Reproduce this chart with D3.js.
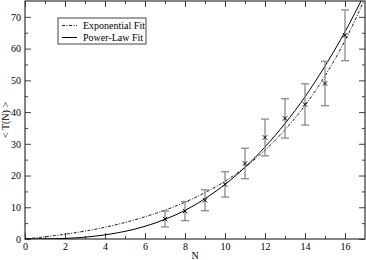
<!DOCTYPE html>
<html>
<head>
<meta charset="utf-8">
<script src="https://cdn.jsdelivr.net/npm/d3@7"></script>
<style>
  body { margin: 0; background: #fff; }
  svg { display: block; }
  svg text { font-family: "Liberation Serif", "Times New Roman", Times, "DejaVu Serif", serif; fill: #000; }
</style>
</head>
<body>
<div id="chart"></div>
<script>
// measured points with error bars
const nValues = [7, 8, 9, 10, 11, 12, 13, 14, 15, 16];
const meanT = [6.3, 8.8, 12.2, 17.2, 23.8, 32.0, 38.0, 42.4, 49.0, 64.2];
const errT = [2.5, 3.0, 3.3, 4.0, 4.8, 5.8, 6.2, 6.5, 7.0, 8.0];

// fit curves at integer N
const fitN = [0, 1, 2, 3, 4, 5, 6, 7, 8, 9, 10, 11, 12, 13, 14, 15, 16, 17];
const expFit = [0, 0.7, 1.5, 2.5, 3.7, 5.2, 7.0, 9.1, 11.6, 14.6, 18.2, 22.6, 28.0, 34.4, 42.1, 51.4, 62.5, 75.8];
const powFit = [0, 0.03, 0.18, 0.58, 1.3, 2.4, 4.0, 6.2, 9.0, 12.7, 17.2, 22.6, 29.0, 36.4, 44.8, 54.5, 65.3, 77.5];

const xTicks = [0, 2, 4, 6, 8, 10, 12, 14, 16];
const yTicks = [0, 10, 20, 30, 40, 50, 60, 70];
const legendLabels = ['Exponential Fit', 'Power-Law Fit'];

const svgWidth = 366;
const svgHeight = 260;
const margin = { top: 1, right: 1, bottom: 21, left: 25 };
const width = svgWidth - margin.left - margin.right;
const height = svgHeight - margin.top - margin.bottom;
const fontSize = 10;

const xScale = d3.scaleLinear().domain([0, 17]).range([0, width]);
const yScale = d3.scaleLinear().domain([0, 75]).range([height, 0]);

const svg = d3.select('#chart').append('svg')
  .attr('width', svgWidth)
  .attr('height', svgHeight);

const g = svg.append('g')
  .attr('transform', `translate(${margin.left}, ${margin.top})`);

g.append('clipPath').attr('id', 'clip')
  .append('rect').attr('width', width).attr('height', height);

// ticks: major inward 6px, minor 3px, on all four sides
const xMinor = d3.range(1, 17, 2);
const yMinor = d3.range(5, 75, 10);
const tickColor = '#444';

function styleAxis(sel) {
  sel.attr('font-family', null).attr('font-size', null);
  sel.select('.domain').remove();
  sel.selectAll('.tick line').attr('stroke', tickColor);
  sel.selectAll('.tick text').attr('font-size', fontSize);
}

g.append('g').attr('transform', `translate(0, ${height})`)
  .call(d3.axisBottom(xScale).tickValues(xTicks).tickSize(-6).tickFormat(d3.format('d')))
  .call(styleAxis)
  .selectAll('.tick text').attr('y', 11).attr('dy', 0);
g.append('g').attr('transform', `translate(0, ${height})`)
  .call(d3.axisBottom(xScale).tickValues(xMinor).tickSize(-3).tickFormat(''))
  .call(styleAxis);
g.append('g')
  .call(d3.axisTop(xScale).tickValues(xTicks).tickSize(-6).tickFormat(''))
  .call(styleAxis);
g.append('g')
  .call(d3.axisTop(xScale).tickValues(xMinor).tickSize(-3).tickFormat(''))
  .call(styleAxis);

g.append('g')
  .call(d3.axisLeft(yScale).tickValues(yTicks).tickSize(-6).tickFormat(d3.format('d')))
  .call(styleAxis)
  .selectAll('.tick text').attr('x', -4);
g.append('g')
  .call(d3.axisLeft(yScale).tickValues(yMinor).tickSize(-3).tickFormat(''))
  .call(styleAxis);
g.append('g').attr('transform', `translate(${width}, 0)`)
  .call(d3.axisRight(yScale).tickValues(yTicks).tickSize(-6).tickFormat(''))
  .call(styleAxis);
g.append('g').attr('transform', `translate(${width}, 0)`)
  .call(d3.axisRight(yScale).tickValues(yMinor).tickSize(-3).tickFormat(''))
  .call(styleAxis);

// frame
g.append('rect')
  .attr('width', width)
  .attr('height', height)
  .attr('fill', 'none')
  .attr('stroke', '#333')
  .attr('stroke-width', 1.2);

// fit lines
const plot = g.append('g').attr('clip-path', 'url(#clip)');

const line = (vals) => d3.line()
  .x((d, i) => xScale(fitN[i]))
  .y((d) => yScale(d))
  .curve(d3.curveMonotoneX)(vals);

plot.append('path')
  .attr('d', line(expFit))
  .attr('fill', 'none')
  .attr('stroke', '#000')
  .attr('stroke-width', 0.9)
  .attr('stroke-dasharray', '3,1.5,1,1.5');

plot.append('path')
  .attr('d', line(powFit))
  .attr('fill', 'none')
  .attr('stroke', '#000')
  .attr('stroke-width', 1);

// error bars
const capHalf = 4;
const bars = g.append('g').attr('stroke', '#8a8a8a').attr('stroke-width', 1.3);
nValues.forEach((n, i) => {
  const x = xScale(n);
  const y0 = yScale(meanT[i] - errT[i]);
  const y1 = yScale(meanT[i] + errT[i]);
  bars.append('line').attr('x1', x).attr('x2', x).attr('y1', y0).attr('y2', y1);
  bars.append('line').attr('x1', x - capHalf).attr('x2', x + capHalf).attr('y1', y0).attr('y2', y0);
  bars.append('line').attr('x1', x - capHalf).attr('x2', x + capHalf).attr('y1', y1).attr('y2', y1);
});

// x markers
g.append('g').selectAll('path.mark')
  .data(nValues)
  .enter().append('path')
  .attr('class', 'mark')
  .attr('transform', (d, i) => `translate(${xScale(d)}, ${yScale(meanT[i])})`)
  .attr('d', d3.symbol(d3.symbolX, 14)())
  .attr('fill', 'none')
  .attr('stroke', '#000')
  .attr('stroke-width', 1);

// legend
const legend = g.append('g').attr('transform', 'translate(33, 17)');
legend.append('rect')
  .attr('width', 88)
  .attr('height', 26)
  .attr('fill', '#fff')
  .attr('stroke', '#444')
  .attr('stroke-width', 1);

legendLabels.forEach((label, i) => {
  const ly = 7.5 + i * 12;
  legend.append('line')
    .attr('x1', 4).attr('x2', 19)
    .attr('y1', ly).attr('y2', ly)
    .attr('stroke', '#000')
    .attr('stroke-width', i === 0 ? 0.9 : 1)
    .attr('stroke-dasharray', i === 0 ? '3,1.5,1,1.5' : null);
  legend.append('text')
    .attr('x', 25)
    .attr('y', ly)
    .attr('dy', '0.35em')
    .attr('font-size', fontSize)
    .text(label);
});

// axis titles
svg.append('text')
  .attr('x', margin.left + width / 2)
  .attr('y', 259)
  .attr('text-anchor', 'middle')
  .attr('font-size', fontSize)
  .text('N');

svg.append('text')
  .attr('transform', `translate(9, ${margin.top + height / 2}) rotate(-90)`)
  .attr('text-anchor', 'middle')
  .attr('font-size', fontSize)
  .text('< T(N) >');
</script>
</body>
</html>
